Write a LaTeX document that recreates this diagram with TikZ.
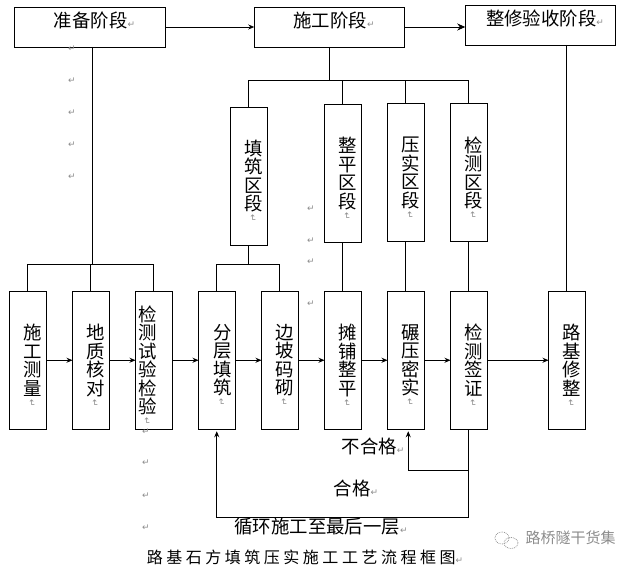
\documentclass[tikz,border=0pt]{standalone}
\usepackage{fontspec}
\setmainfont{Noto Sans CJK SC}
\newfontfamily\symfont{DejaVu Sans}
\usetikzlibrary{arrows.meta, positioning}
\newcommand{\retmark}{{\symfont\color{black!45}\fontsize{9}{9}\selectfont ↵}}
\newcommand{\vmark}{\rlap{\smash{\raisebox{-4pt}{\hspace*{-13pt}\rotatebox{-90}{\retmark}}}}}
\newcommand{\vlab}[2]{\hspace*{#1}\parbox{20pt}{\centering #2\vmark}}
\begin{document}
\begin{tikzpicture}[
    x=1pt, y=-1pt,
    node distance=26.5pt,
    font=\fontsize{18.4}{18.5}\selectfont,
    line width=0.8pt,
    >={Stealth[length=6pt, width=5pt]},
    stage/.style={rectangle, draw=black, minimum width=150.5pt, minimum height=40pt, inner sep=0pt, outer sep=0pt, text height=15pt, text depth=14pt},
    column/.style={rectangle, draw=black, minimum width=36.5pt, minimum height=138pt, inner sep=0pt, outer sep=0pt},
    parmark/.style={inner sep=0pt},
    note/.style={inner sep=0pt}
]
    \useasboundingbox (0,0) rectangle (636,567);

    \node[stage] (prep) at (90,27) {\hspace*{9pt}准备阶段\retmark};
    \node[stage] (build) at (329.5,27) {\hspace*{9pt}施工阶段\retmark};
    \node[stage] (finish) at (540.5,25) {\hspace*{9pt}整修验收阶段\retmark};

    \node[column] (survey) at (27.75,360.25) {\vlab{10pt}{施\\工\\测\\量}};
    \node[column, right=of survey] (geology) {\vlab{10pt}{地\\质\\核\\对}};
    \node[column, right=of geology] (testing) {\vlab{-12pt}{检\\测\\试\\验\\检\\验}};
    \node[column, right=of testing] (layer) {\vlab{11pt}{分\\层\\填\\筑}};
    \node[column, right=of layer] (slope) {\vlab{10pt}{边\\坡\\码\\砌}};
    \node[column, right=of slope] (spread) {\vlab{10pt}{摊\\铺\\整\\平}};
    \node[column, right=of spread] (roll) {\vlab{10pt}{碾\\压\\密\\实}};
    \node[column, right=of roll] (sign) {\vlab{10pt}{检\\测\\签\\证}};
    \node[column, right=61.5pt of sign] (trim) {\vlab{10pt}{路\\基\\修\\整}};

    \node[column] (fillsec) at (248.75,176) {\vlab{10pt}{填\\筑\\区\\段}};
    \node[column, above=48.5pt of spread] (levelsec) {\vlab{10pt}{整\\平\\区\\段}};
    \node[column, above=49.5pt of roll] (presssec) {\vlab{10pt}{压\\实\\区\\段}};
    \node[column, above=49.5pt of sign] (checksec) {\vlab{10pt}{检\\测\\区\\段}};

    \coordinate (prepbus) at (92,264);
    \coordinate (buildbus) at (330,80);
    \coordinate (fillbus) at (249,264);
    \coordinate (failbus) at (468.75,470);
    \coordinate (loopbus) at (468.75,517);

    \draw[->] (prep.east) -- (build.west);
    \draw[->, >={Stealth[length=8pt, width=7pt]}] (build.east) -- (build.east -| finish.west);
    \draw (prep.south -| prepbus) -- (prepbus);
    \draw (survey.north) |- (testing.north |- prepbus) -- (testing.north);
    \draw (geology.north) -- (geology.north |- prepbus);
    \draw (build.south) -- (build.south |- buildbus);
    \draw (fillsec.north) |- (checksec.north |- buildbus) -- (checksec.north);
    \draw (levelsec.north) -- (levelsec.north |- buildbus);
    \draw (presssec.north) -- (presssec.north |- buildbus);
    \draw (fillsec.south) -- (fillsec.south |- fillbus);
    \draw (layer.north) |- (slope.north |- fillbus) -- (slope.north);
    \draw (levelsec.south) -- (spread.north);
    \draw (presssec.south) -- (roll.north);
    \draw (checksec.south) -- (sign.north);
    \draw (finish.south -| trim.north) -- (trim.north);

    \draw[->] (survey) -- (geology);
    \draw[->] (geology) -- (testing);
    \draw[->] (testing) -- (layer);
    \draw[->] (layer) -- (slope);
    \draw[->] (slope) -- (spread);
    \draw[->] (spread) -- (roll);
    \draw[->] (roll) -- (sign);
    \draw[->] (sign) -- (trim);

    \draw (sign.south) -- (loopbus);
    \draw[->, shorten >=2pt] (failbus) -| ([xshift=2.5pt]roll.south);
    \draw[->, shorten >=2pt] (loopbus) -| (layer.south);

    \node[note] (failnote) at (373,446) {不合格\retmark};
    \node[note] (passnote) at (356,488) {合格\retmark};
    \node[note] (loopnote) at (321,527) {循环施工至最后一层\retmark};
    \node[note, font=\fontsize{16}{16}\selectfont\addfontfeature{LetterSpace=22}] (title) at (305,557) {路基石方填筑压实施工工艺流程框图\retmark};
    \node[note, text=black!45, font=\fontsize{15}{15}\selectfont] (brand) at (570.5,538) {路桥隧干货集};

    \draw[black!40, densely dotted] (502,538) ellipse (7pt and 6pt);
    \draw[black!40, densely dotted] (511,543) ellipse (7pt and 5.5pt);

    \node[parmark] (pa) at (72,49) {\retmark};
    \node[parmark] (pb) at (72,81) {\retmark};
    \node[parmark] (pc) at (72,113) {\retmark};
    \node[parmark] (pd) at (72,145) {\retmark};
    \node[parmark] (pe) at (72,177) {\retmark};
    \node[parmark] (pf) at (311,209) {\retmark};
    \node[parmark] (pg) at (311,241) {\retmark};
    \node[parmark] (ph) at (311,262) {\retmark};
    \node[parmark] (pi) at (311,304) {\retmark};
    \node[parmark] (pj) at (146,432) {\retmark};
    \node[parmark] (pk) at (146,463) {\retmark};
    \node[parmark] (pl) at (146,496) {\retmark};
    \node[parmark] (pm) at (146,528) {\retmark};
\end{tikzpicture}
\end{document}
